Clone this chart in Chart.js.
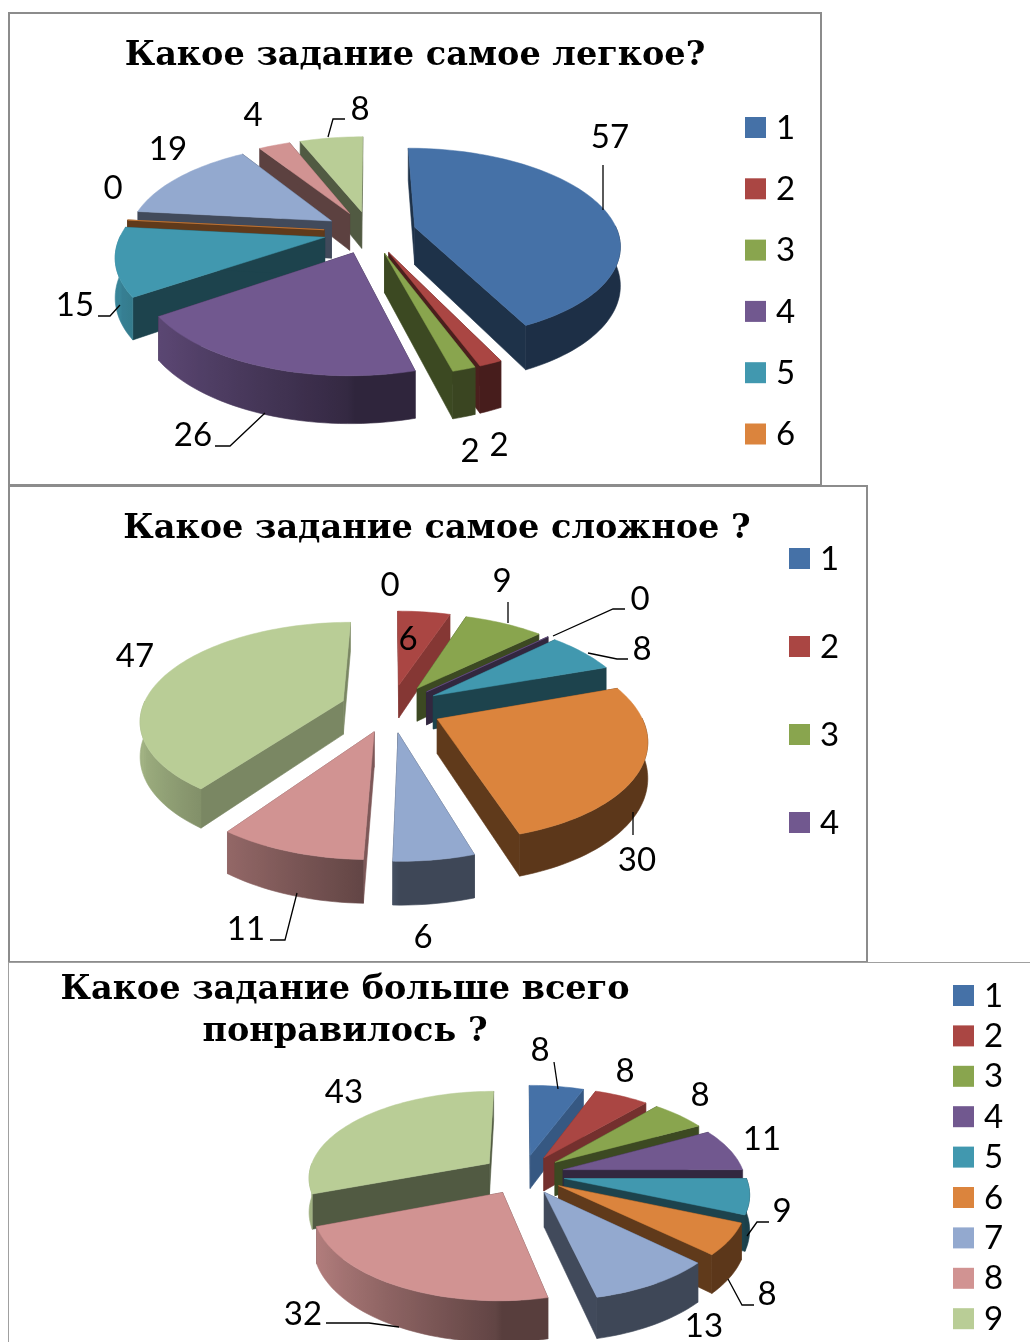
<!DOCTYPE html>
<html><head><meta charset="utf-8">
<style>
html,body{margin:0;padding:0;background:#fff;width:1030px;height:1342px;overflow:hidden}
.box{position:absolute;box-sizing:border-box;border:2px solid #8c8c8c;overflow:hidden;background:#fff}
canvas{position:absolute;left:-2px;top:-2px}
</style></head><body>
<div class="box" style="left:8px;top:12px;width:814px;height:474px"><canvas id="c1"></canvas></div>
<div class="box" style="left:8px;top:485px;width:860px;height:478px"><canvas id="c2"></canvas></div>
<div class="box" style="left:8px;top:962px;width:1024px;height:382px;border-width:1px 0 0 1px;border-color:#a0a0a0"><canvas id="c3"></canvas></div>
<script src="https://cdn.jsdelivr.net/npm/chart.js@4"></script>
<script>
const categories = ['1','2','3','4','5','6','7','8','9'];
const easiestValues = [57,2,2,26,15,0,19,4,8];
const hardestValues = [0,6,9,0,8,30,6,11,47];
const favouriteValues = [8,8,8,11,9,8,13,32,43];
const easiestTitle = ['Какое задание самое легкое?'];
const hardestTitle = ['Какое задание самое сложное ?'];
const favouriteTitle = ['Какое задание больше всего','понравилось ?'];
const sliceColors = ['#4571A7','#AA4643','#89A54E','#71588F','#4198AF','#DB843D','#93A9CF','#D19392','#B9CD96'];

const TITLE_FONT = 'bold 33.5px "DejaVu Serif"';
const LABEL_FONT = '33px Lato';

function shade(hex, f){
  const n = parseInt(hex.slice(1),16);
  return `rgb(${Math.round((n>>16)*f)},${Math.round(((n>>8)&255)*f)},${Math.round((n&255)*f)})`;
}
function outerShade(u){ return u >= 0 ? 0.42 : 0.46 + 0.42*(-u); }

const pie3d = {
  id: 'pie3d',
  beforeDatasetsDraw(chart, args, o){
    const ctx = chart.ctx;
    const arcs = chart.getDatasetMeta(0).data;
    const vals = chart.data.datasets[0].data;
    const k = o.perspective;
    const proj = (cx,cy,u,v,drop) => {
      const w = 1 - k*v;
      return [cx + u*o.rx/w, cy + v*o.ry/w + (drop ? o.depth/w : 0)];
    };
    const items = arcs.map((el,i) => {
      const a0 = el.startAngle + Math.PI/2, a1 = el.endAngle + Math.PI/2; // clockwise from top
      const mid = (a0+a1)/2, e = el.options.offset/el.outerRadius;
      return {el,i,a0,a1,mid,e,ax:e*Math.sin(mid),ay:-e*Math.cos(mid)};
    }).sort((p,q) => (p.ay - Math.cos(p.mid)*0.45) - (q.ay - Math.cos(q.mid)*0.45));
    ctx.save();
    ctx.lineJoin = 'round';
    for (const s of items){
      const {el,i,a0,a1,ax,ay} = s, c = chart.data.datasets[0].backgroundColor[i];
      if (vals[i]===0 && Math.abs(Math.sin(s.mid))<0.02) continue;
      const cx = el.x, cy = el.y;
      const n = Math.max(2, Math.ceil((a1-a0)/0.03));
      const rim = [];
      for (let j=0;j<=n;j++){ const t=a0+(a1-a0)*j/n; rim.push({u:ax+Math.sin(t),v:ay-Math.cos(t),nu:Math.sin(t),nv:-Math.cos(t)}); }
      // cut walls
      const ws = shade(c,(o.wallShade&&o.wallShade[i])||0.44);
      ctx.fillStyle=ctx.strokeStyle=ws;ctx.lineWidth=0.6;
      for (const p of [rim[0],rim[n]]){
        const A=proj(cx,cy,ax,ay),B=proj(cx,cy,p.u,p.v),C=proj(cx,cy,p.u,p.v,1),D=proj(cx,cy,ax,ay,1);
        ctx.beginPath();ctx.moveTo(...A);ctx.lineTo(...B);ctx.lineTo(...C);ctx.lineTo(...D);ctx.closePath();ctx.fill();ctx.stroke();
      }
      // outer wall: only the part that faces the viewer, as one gradient polygon
      const front = rim.filter(p=>p.nv>-0.02);
      if (front.length>1){
        const top = front.map(p=>proj(cx,cy,p.u,p.v));
        const bot = front.map(p=>proj(cx,cy,p.u,p.v,1));
        const xs = top.map(p=>p[0]);
        const x0=Math.min(...xs), x1=Math.max(...xs);
        let fill = shade(c,outerShade(front[0].nu));
        if (x1-x0>1){
          const g=ctx.createLinearGradient(x0,0,x1,0);
          front.forEach((p,j)=>g.addColorStop((xs[j]-x0)/(x1-x0),shade(c,outerShade(p.nu))));
          fill=g;
        }
        ctx.fillStyle=ctx.strokeStyle=fill;
        ctx.beginPath();
        top.forEach((p,j)=>j?ctx.lineTo(...p):ctx.moveTo(...p));
        bot.reverse().forEach(p=>ctx.lineTo(...p));
        ctx.closePath();ctx.fill();ctx.stroke();
      }
      // top face
      ctx.fillStyle=ctx.strokeStyle=c;
      ctx.lineWidth=0.5;
      ctx.beginPath();ctx.moveTo(...proj(cx,cy,ax,ay));
      for (const p of rim) ctx.lineTo(...proj(cx,cy,p.u,p.v));
      ctx.closePath();ctx.fill();ctx.stroke();
    }
    ctx.restore();
    return false;
  },
  afterDraw(chart, args, o){
    const ctx = chart.ctx;
    ctx.save();
    ctx.translate(-o.ox,-o.oy);
    ctx.strokeStyle='#000';ctx.lineWidth=1.3;
    for (const l of o.leaders){ ctx.beginPath(); l.forEach((p,j)=> j?ctx.lineTo(p[0],p[1]):ctx.moveTo(p[0],p[1])); ctx.stroke(); }
    ctx.fillStyle='#000';ctx.font=LABEL_FONT;ctx.textAlign='center';ctx.textBaseline='middle';
    const vals = chart.data.datasets[0].data;
    vals.forEach((v,i)=>ctx.fillText(String(v),o.labelPos[i][0],o.labelPos[i][1]+1));
    ctx.textAlign='left';
    for (let i=0;i<o.legend.count;i++){
      const y=o.legend.y+i*o.legend.step;
      ctx.fillStyle=chart.data.datasets[0].backgroundColor[i];
      ctx.fillRect(o.legend.x,y,21,21);
      ctx.fillStyle='#000';
      ctx.fillText(chart.data.labels[i],o.legend.x+31,y+11);
    }
    ctx.font=TITLE_FONT;ctx.textAlign='center';ctx.textBaseline='alphabetic';ctx.fillStyle='#000';
    o.title.lines.forEach((t,i)=>ctx.fillText(t,o.title.x,o.title.y+i*o.title.lh));
    ctx.restore();
  }
};

function makeChart(id,values,padding,offset,opts){
  return new Chart(document.getElementById(id),{
    type:'pie',
    data:{labels:categories,datasets:[{data:values,backgroundColor:sliceColors,offset:offset,borderWidth:0}]},
    options:{responsive:false,animation:false,rotation:0,
      layout:{padding},
      plugins:{legend:{display:false},title:{display:false},tooltip:{enabled:false},pie3d:opts}},
    plugins:[pie3d]
  });
}
function size(id,w,h){const c=document.getElementById(id);c.width=w;c.height=h;c.style.width=w+'px';c.style.height=h+'px';}
size('c1',812,473);size('c2',858,477);size('c3',1021,379);

const layout1={ox:8,oy:12,rx:203,ry:94,perspective:0.17,depth:38,wallShade:{},
  title:{lines:easiestTitle,x:415,y:65,lh:0},
  legend:{x:745,y:117,step:61.3,count:6},
  labelPos:[[610,136],[499,444],[470,450],[193,434],[75,304],[113,187],[168,148],[253,114],[360,108]],
  leaders:[[[603,165],[603,210]],[[215,446],[230,446],[265,413]],[[98,316],[110,316],[120,305]],[[345,119],[333,119],[328,137]]]};
const layout2={ox:8,oy:485,rx:201,ry:95,perspective:0.18,depth:34,wallShade:{1:0.78,8:0.66,7:0.6},
  title:{lines:hardestTitle,x:437,y:538,lh:0},
  legend:{x:789,y:548,step:88,count:4},
  labelPos:[[390,584],[408,638],[502,580],[640,598],[642,648],[637,859],[423,936],[246,928],[135,655]],
  leaders:[[[508,602],[508,623]],[[625,609],[613,609],[553,636]],[[628,659],[617,659],[588,653]],[[633,835],[633,812]],[[270,940],[285,940],[297,893]]]};
const layout3={ox:8,oy:962,rx:181,ry:86,perspective:0.15,depth:34,wallShade:{0:0.78,1:0.68},
  title:{lines:favouriteTitle,x:346,y:1000,lh:42},
  legend:{x:954,y:986,step:40.4,count:9},
  labelPos:[[541,1050],[626,1071],[701,1095],[763,1139],[783,1211],[768,1294],[705,1326],[304,1314],[345,1092]],
  leaders:[[[555,1063],[559,1090]],[[770,1223],[758,1223],[748,1237]],[[755,1306],[743,1306],[729,1280]],[[327,1324],[370,1324],[400,1328]]]};

makeChart('c1',easiestValues,{left:142,right:230,top:0,bottom:33},45,layout1);
makeChart('c2',hardestValues,{left:160,right:252,top:0,bottom:31},50,layout2);
makeChart('c3',favouriteValues,{left:356,right:345,top:54,bottom:6},33,layout3);
</script>
</body></html>
